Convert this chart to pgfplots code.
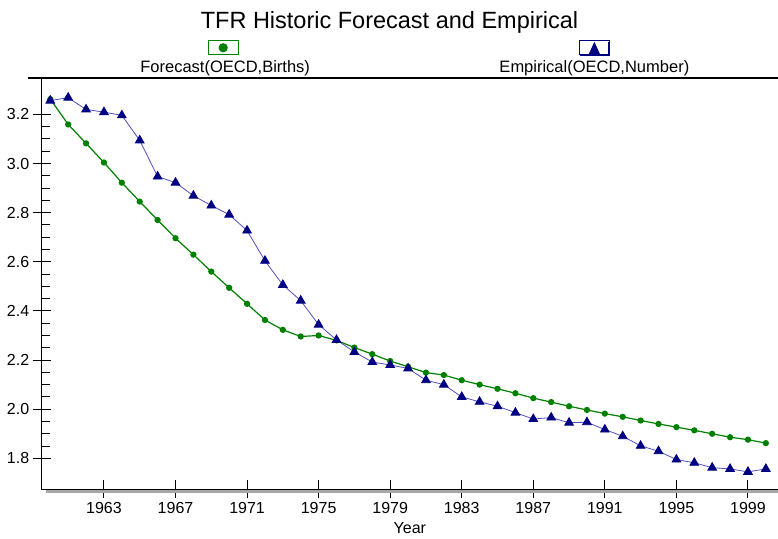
\documentclass[border=0pt]{standalone}
\usepackage{pgfplots}
\pgfplotsset{compat=1.18}
\usepackage{fontspec}
\setmainfont{Liberation Sans}
\definecolor{fgreen}{RGB}{0,128,0}
\definecolor{navyb}{RGB}{0,0,128}
\definecolor{bline}{RGB}{80,80,190}
\begin{document}
\begin{tikzpicture}[x=1pt,y=1pt]
\useasboundingbox (0,0) rectangle (778,538);
\begin{axis}[
  at={(41.7pt,48.7pt)}, anchor=south west,
  scale only axis, width=736.3pt, height=411.3pt,
  xmin=1959.52, xmax=2000.68, ymin=1.674, ymax=3.348,
  axis x line*=bottom, axis y line*=left,
  axis line style={-, black, line width=1.4pt},
  xtick={1963,1967,1971,1975,1979,1983,1987,1991,1995,1999},
  ytick={1.8,2.0,2.2,2.4,2.6,2.8,3.0,3.2},
  minor y tick num=3,
  tick align=center,
  major tick length=18pt,
  minor tick length=8pt,
  minor y tick style={xshift=4pt},
  tick style={black, line width=1pt},
  ticklabel style={font=\fontsize{16}{19}\selectfont},
  /pgf/number format/assume math mode=true,
  xticklabel style={/pgf/number format/1000 sep={}},
  yticklabel style={/pgf/number format/.cd, fixed, fixed zerofill, precision=1},
  xlabel={Year}, xlabel style={font=\fontsize{16}{19}\selectfont, yshift=-2pt},
  clip=false,
  legend columns=2,
  legend style={at={(0.4995,1.073)}, anchor=center, draw=none, fill=none,
    inner sep=0pt, outer sep=0pt, nodes={inner sep=0pt},
    /tikz/every even column/.append style={column sep=339pt}},
]
\addplot[fgreen, line width=1.2pt, mark=*, mark size=2.5pt, mark options={fgreen, solid},
  legend image code/.code={
    \draw[fgreen, line width=1.2pt, fill=white] (0pt,-7pt) rectangle (30pt,7pt);
    \fill[fgreen] (15pt,0pt) circle (4pt);
    \node[overlay, anchor=base, font=\fontsize{16.5}{19}\selectfont, text=black, inner sep=0pt] at (17pt,-24.5pt) {Forecast(OECD,Births)};
  }] coordinates {
(1960,3.262) (1961,3.159) (1962,3.082) (1963,3.004) (1964,2.922) (1965,2.845)
(1966,2.770) (1967,2.696) (1968,2.629) (1969,2.560) (1970,2.494) (1971,2.429)
(1972,2.363) (1973,2.323) (1974,2.296) (1975,2.300) (1976,2.280) (1977,2.251)
(1978,2.224) (1979,2.196) (1980,2.173) (1981,2.149) (1982,2.139) (1983,2.118)
(1984,2.100) (1985,2.083) (1986,2.065) (1987,2.045) (1988,2.029) (1989,2.012)
(1990,1.997) (1991,1.982) (1992,1.969) (1993,1.954) (1994,1.940) (1995,1.927)
(1996,1.914) (1997,1.900) (1998,1.886) (1999,1.876) (2000,1.862)
};
\addlegendentry{}
\addplot[bline, line width=0.8pt, mark=triangle*, mark size=5pt, mark options={navyb, fill=navyb, solid},
  legend image code/.code={
    \draw[navyb, line width=1.2pt, fill=white] (0pt,-7pt) rectangle (30pt,7pt);
    \draw[navyb, line width=2pt] (1pt,-7pt) -- (30pt,-7pt) -- (30pt,6pt);
    \fill[navyb] (10pt,-6pt) -- (20pt,-6pt) -- (15pt,5pt) -- cycle;
    \node[overlay, anchor=base, font=\fontsize{16.5}{19}\selectfont, text=black, inner sep=0pt] at (15pt,-24.5pt) {Empirical(OECD,Number)};
  }] coordinates {
(1960,3.256) (1961,3.268) (1962,3.220) (1963,3.209) (1964,3.196) (1965,3.094)
(1966,2.947) (1967,2.922) (1968,2.869) (1969,2.829) (1970,2.792) (1971,2.727)
(1972,2.604) (1973,2.506) (1974,2.442) (1975,2.344) (1976,2.282) (1977,2.233)
(1978,2.192) (1979,2.180) (1980,2.166) (1981,2.118) (1982,2.100) (1983,2.050)
(1984,2.030) (1985,2.012) (1986,1.986) (1987,1.960) (1988,1.966) (1989,1.945)
(1990,1.947) (1991,1.917) (1992,1.890) (1993,1.851) (1994,1.829) (1995,1.795)
(1996,1.782) (1997,1.762) (1998,1.757) (1999,1.745) (2000,1.757)
};
\addlegendentry{}
\end{axis}
\fill[gray!70] (46,44.8) rectangle (778,48.2);
\draw[black, line width=1.4pt] (41,48.7) -- (778,48.7);
\draw[black, line width=1.4pt] (28,460) -- (778,460);
\node[anchor=base, font=\fontsize{23.5}{28}\selectfont, inner sep=0pt] at (389.5,509) {TFR Historic Forecast and Empirical};
\end{tikzpicture}
\end{document}
